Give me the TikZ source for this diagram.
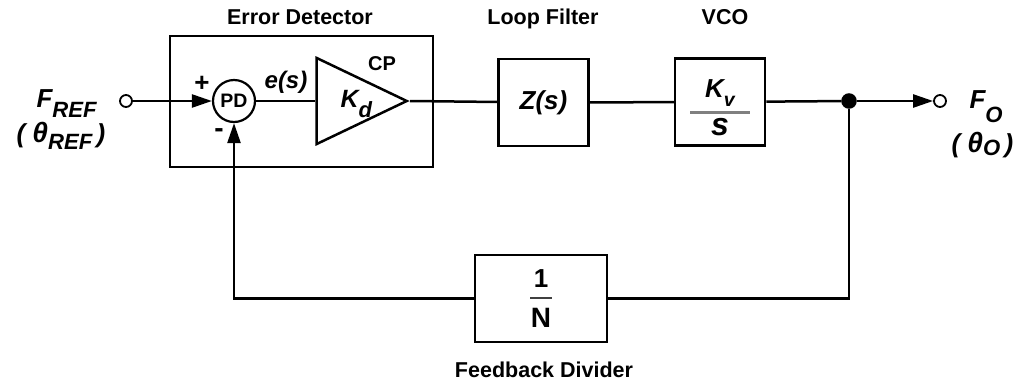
\documentclass[tikz,border=0pt]{standalone}
\usepackage{fontspec}
\setmainfont{Liberation Sans}
\usepackage{graphicx}
\usepackage{xcolor}
\usetikzlibrary{arrows.meta,positioning,shapes.geometric}
\newcommand{\lowsub}[3][0.85]{\raisebox{#2}{\scalebox{#1}{#3}}}

\begin{document}
\begin{tikzpicture}[x=1pt,y=-1pt,line width=2.5pt,
blk/.style={draw,minimum width=90pt,minimum height=87pt,inner sep=0pt,align=center},
ttl/.style={font=\fontsize{21.5}{24}\selectfont\bfseries,anchor=base},
sig/.style={font=\fontsize{26}{28}\selectfont\bfseries\itshape},
port/.style={draw,circle,fill=white,minimum size=12pt,inner sep=0pt,line width=1.8pt},
amp/.style={draw,isosceles triangle,isosceles triangle stretches,minimum width=86pt,minimum height=90pt,inner sep=0pt,anchor=apex},
conn/.style={draw,-{Triangle[length=20pt,width=13pt]}}]
\useasboundingbox (0,0) rectangle (1028,381);
\node[draw,minimum width=263pt,minimum height=131pt] (ed) at (301.5,101.5) {};
\node[ttl] (edl) at (300,24) {Error Detector};
\node[ttl] (lfl) at (543,24) {Loop Filter};
\node[ttl] (vcol) at (725,24) {VCO};
\node[ttl] (divl) at (544,377) {Feedback Divider};
\node[port] (fin) at (126,101) {};
\node[port] (fout) at (940,101) {};
\node[sig,anchor=base west] (fref) at (32,107) {F\lowsub{-0.42em}{REF}};
\node[sig,anchor=base west] (thref) at (12,142) {( {\fontsize{28}{28}\selectfont θ}\lowsub{-0.3em}{REF}\,)};
\node[sig,anchor=base west] (fo) at (965,108) {F\lowsub{-0.54em}{O}};
\node[sig,anchor=base west] (tho) at (947,152) {( {\fontsize{28}{28}\selectfont θ}\lowsub{-0.12em}{O}\,)};
\node[draw,circle,minimum size=42pt,inner sep=0pt,line width=2.2pt,font=\fontsize{19.5}{20}\selectfont\bfseries] (pd) at (234,101) {PD};
\node[font=\fontsize{26}{26}\selectfont\bfseries] (plus) at (202,84) {+};
\node[font=\fontsize{28}{26}\selectfont\bfseries] (minus) at (219,133) {-};
\node[sig,font=\fontsize{24}{26}\selectfont\bfseries\itshape] (es) at (286,82) {e(s)};
\node[amp] (cp) at (410,101) {};
\node[sig,font=\fontsize{25}{26}\selectfont\bfseries\itshape,anchor=base west] (kd) at (336,107) {K\lowsub[0.88]{-0.42em}{d}};
\node[font=\fontsize{20}{20}\selectfont\bfseries] (cpl) at (382,64) {CP};
\node[blk,font=\fontsize{26}{26}\selectfont\bfseries\itshape] (lf) at (543.5,102.5) {Z(s)};
\node[blk,font=\fontsize{26}{17}\selectfont\bfseries\itshape] (vco) at (720,102) {\rule{0pt}{29pt}K\lowsub[0.75]{-0.37em}{v}\\\textcolor{gray}{\rule[0.5pt]{60pt}{3pt}}\\[3pt]{\fontsize{32}{17}\selectfont s}};
\node[blk,minimum width=132pt,font=\fontsize{26}{19}\selectfont\bfseries] (div) at (541,298.5) {1\\\textcolor{black!75}{\rule[8pt]{22pt}{2pt}}\\{\fontsize{28}{19}\selectfont N}};
\node[draw,circle,fill=black,minimum size=13pt,inner sep=0pt] (jn) at (849,101) {};
\draw[conn] (fin) -- (pd);
\draw (pd) -- (cp);
\draw (cp.apex) -- (lf);
\draw (lf) -- (vco);
\draw (vco) -- (jn);
\draw[conn] (jn) -- (fout);
\draw (jn) |- (div);
\draw[conn] (div) -| (pd);
\end{tikzpicture}
\end{document}
